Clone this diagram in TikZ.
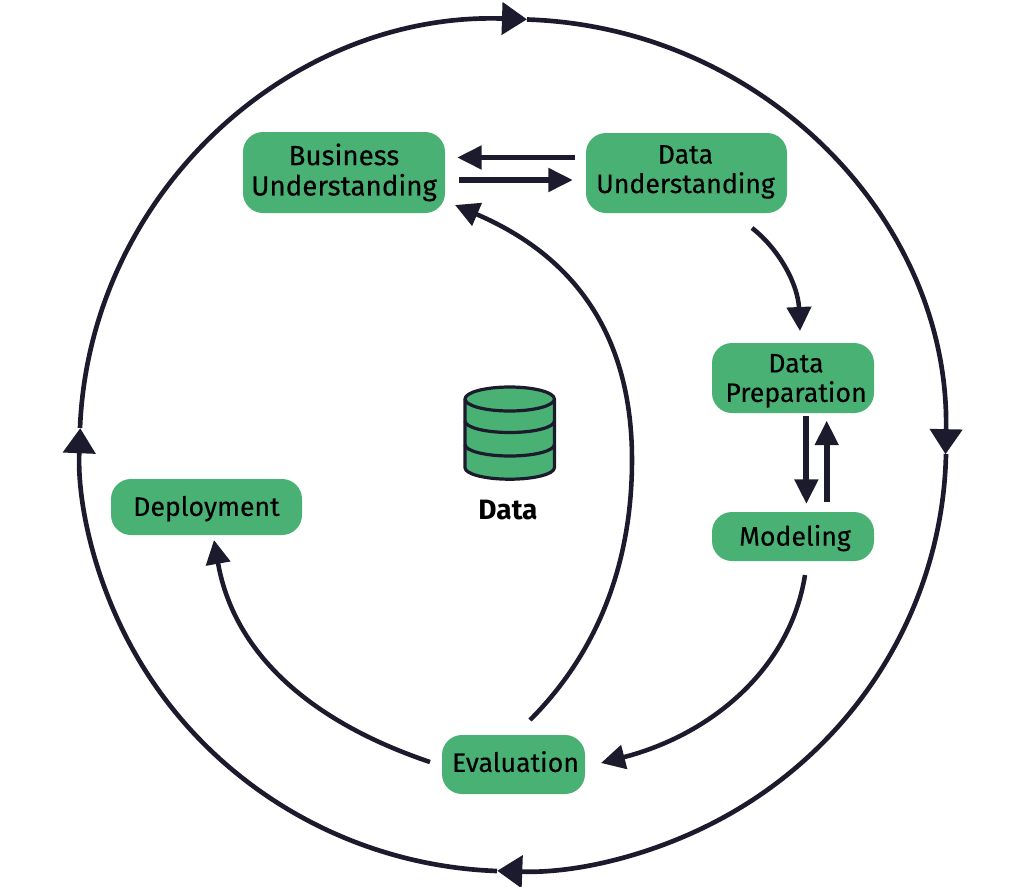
\documentclass[tikz,border=0pt]{standalone}
\usepackage{fontspec}
\setmainfont[FakeBold=0.25,BoldFont={Fira Sans Bold},BoldFeatures={FakeBold=0}]{Fira Sans}
\usetikzlibrary{arrows.meta}
\definecolor{stepgreen}{HTML}{48B173}
\definecolor{linedark}{HTML}{1C1B2E}
\newcommand\steptext[3]{\hspace*{#1}\raisebox{#2}[\height][\depth]{\begin{tabular}{@{}c@{}}#3\end{tabular}}}
\tikzset{
  phase/.style={draw=none,fill=stepgreen,rounded corners=15pt,inner sep=0pt,outer sep=0pt,align=center,text=black,font=\fontsize{20}{21.75}\selectfont},
  ringline/.style={draw=linedark,line width=3.5pt,-{Triangle[length=18.75pt,width=24pt,color=linedark]}},
  flow/.style={draw=linedark,line width=3.4pt,-{Triangle[length=18pt,width=18pt,color=linedark]}},
  straightflow/.style={draw=linedark,line width=4.4pt,-{Triangle[length=18.5pt,width=17pt,color=linedark]}},
  dbline/.style={draw=linedark,line width=2.4pt,fill=stepgreen,line join=round}
}
\begin{document}
\begin{tikzpicture}[x=0.75pt,y=-0.75pt]
\useasboundingbox (0,0) rectangle (1031,886);
% outer ring
\coordinate (ringtop) at (527,19.5);
\coordinate (ringright) at (946,454);
\coordinate (ringbottom) at (497,871);
\coordinate (ringleft) at (80,428);
\draw[ringline] (ringtop) arc[start angle=271.9,end angle=361.2,x radius=433,y radius=426];
\draw[ringline] (ringright) arc[start angle=1.2,end angle=92.1,x radius=433,y radius=426];
\draw[ringline] (ringbottom) arc[start angle=92.1,end angle=182.3,x radius=433,y radius=426];
\draw[ringline] (ringleft) arc[start angle=182.3,end angle=271.9,x radius=433,y radius=426];
% phases
\node[phase,font=\fontsize{20.8}{21.75}\selectfont,minimum width=151.5pt,minimum height=60.75pt] (bu) at (344,172.5) {\steptext{0pt}{-1pt}{Business\\Understanding}};
\node[phase,minimum width=150.75pt,minimum height=60pt] (du) at (686.5,173) {\steptext{-1.5pt}{0.4pt}{Data\\Understanding}};
\node[phase,minimum width=121.5pt,minimum height=52.5pt] (dp) at (793,378) {\steptext{4.5pt}{-2.5pt}{Data\\Preparation}};
\node[phase,minimum width=121.5pt,minimum height=36.75pt] (mod) at (793,536.5) {\steptext{3pt}{-2.3pt}{Modeling}};
\node[phase,minimum width=107.25pt,minimum height=44.25pt] (ev) at (513.5,764.5) {\steptext{3pt}{-1pt}{Evaluation}};
\node[phase,minimum width=143.25pt,minimum height=42pt] (dep) at (206.5,507) {\steptext{0pt}{-2.3pt}{Deployment}};
% connectors
\draw[straightflow] ([shift={(-11,-15.5)}]du.west) -- ([shift={(12,-15)}]bu.east);
\draw[straightflow] ([shift={(14,7.5)}]bu.east) -- ([shift={(-13,7)}]du.west);
\draw[straightflow] ([shift={(13.4,3)}]dp.south) -- ([shift={(13.4,-8)}]mod.north);
\draw[straightflow] ([shift={(33.7,-10)}]mod.north) -- ([shift={(33.7,7.5)}]dp.south);
\draw[flow] ([shift={(65.5,15)}]du.south) .. controls (780,250) and (798,285) .. ([shift={(7,-12)}]dp.north);
\draw[flow] ([shift={(12,14)}]mod.south) .. controls (790,670) and (710,735) .. ([shift={(16,-1.5)}]ev.east);
\draw[flow] ([shift={(-12,-2.5)}]ev.west) .. controls (320,725) and (235,660) .. ([shift={(7.5,5)}]dep.south);
\draw[flow] ([shift={(16.5,-15)}]ev.north) .. controls (600,650) and (632,560) .. (632,460) .. controls (632,320) and (560,250) .. ([shift={(10,-8)}]bu.south east);
% database
\draw[dbline] (465,399) -- (465,467.7) arc[start angle=180,end angle=0,x radius=44.7,y radius=11.5] -- (554.4,399) -- cycle;
\draw[dbline,fill=none] (465,421) arc[start angle=180,end angle=0,x radius=44.7,y radius=11.5];
\draw[dbline,fill=none] (465,444.5) arc[start angle=180,end angle=0,x radius=44.7,y radius=11.5];
\draw[dbline] (509.7,399) ellipse[x radius=44.7,y radius=12];
\node[inner sep=0pt,font=\fontsize{21}{24}\selectfont\bfseries,text=black] (datalabel) at (508,510) {Data};
\end{tikzpicture}
\end{document}
